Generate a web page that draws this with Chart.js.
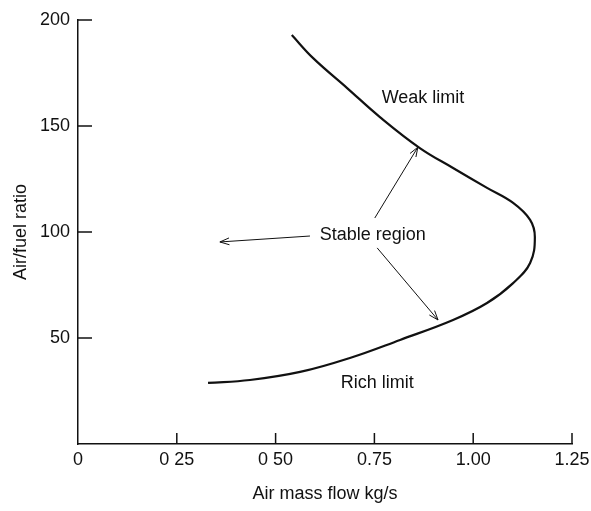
<!DOCTYPE html>
<html lang="en">
<head>
<meta charset="UTF-8">
<title>Air/fuel ratio stability loop</title>
<script src="https://cdn.jsdelivr.net/npm/chart.js"></script>
<style>
    html, body { margin: 0; padding: 0; background: #fff; }
    #wrap { width: 591px; height: 511px; }
</style>
</head>
<body>
<div id="wrap"><canvas id="loopChart"></canvas></div>
<script>
    // stability loop (weak limit on top, rich limit below)
    const massFlow = [0.541, 0.595, 0.681, 0.764, 0.865, 0.949, 1.035, 1.101, 1.144, 1.156, 1.144, 1.101, 1.035, 0.949, 0.815, 0.688, 0.562, 0.435, 0.329];
    const afRatio  = [192.9, 182.0, 167.9, 154.2, 139.6, 130.2, 120.8, 113.7, 105.7, 97.6, 85.4, 75.9, 66.5, 58.5, 49.1, 40.6, 34.0, 30.2, 28.8];

    const xTickLabels = ['0', '0 25', '0 50', '0.75', '1.00', '1.25'];
    const yTickLabels = ['', '50', '100', '150', '200'];

    const notes = [
        { text: 'Weak limit', x: 0.873, y: 163 },
        { text: 'Stable region', x: 0.746, y: 98.6 },
        { text: 'Rich limit', x: 0.757, y: 28.8 }
    ];
    const arrows = [
        { from: [0.587, 98.1], to: [0.359, 95.3] },
        { from: [0.751, 106.6], to: [0.860, 140] },
        { from: [0.757, 92.5], to: [0.911, 58.5] }
    ];

    const ink = '#111';
    const font = '"Liberation Sans", Arial, sans-serif';

    const points = massFlow.map((x, i) => ({ x: x, y: afRatio[i] }));

    const decorPlugin = {
        id: 'decor',
        afterDatasetsDraw(chart) {
            const ctx = chart.ctx;
            const xs = chart.scales.x;
            const ys = chart.scales.y;
            const area = chart.chartArea;
            ctx.save();
            ctx.strokeStyle = ink;
            ctx.fillStyle = ink;
            ctx.lineWidth = 1.5;

            // inward tick marks
            ys.ticks.forEach(t => {
                if (t.value === 0) return;
                const py = ys.getPixelForValue(t.value);
                ctx.beginPath();
                ctx.moveTo(area.left, py);
                ctx.lineTo(area.left + 14, py);
                ctx.stroke();
            });
            xs.ticks.forEach(t => {
                if (t.value === 0) return;
                const px = xs.getPixelForValue(t.value);
                ctx.beginPath();
                ctx.moveTo(px, area.bottom);
                ctx.lineTo(px, area.bottom - 11);
                ctx.stroke();
            });

            // arrows with open heads
            ctx.lineWidth = 1;
            arrows.forEach(a => {
                const x1 = xs.getPixelForValue(a.from[0]);
                const y1 = ys.getPixelForValue(a.from[1]);
                const x2 = xs.getPixelForValue(a.to[0]);
                const y2 = ys.getPixelForValue(a.to[1]);
                const ang = Math.atan2(y2 - y1, x2 - x1);
                ctx.beginPath();
                ctx.moveTo(x1, y1);
                ctx.lineTo(x2, y2);
                ctx.moveTo(x2 - 10 * Math.cos(ang - 0.35), y2 - 10 * Math.sin(ang - 0.35));
                ctx.lineTo(x2, y2);
                ctx.lineTo(x2 - 10 * Math.cos(ang + 0.35), y2 - 10 * Math.sin(ang + 0.35));
                ctx.stroke();
            });

            // curve labels
            ctx.font = '18px ' + font;
            ctx.textAlign = 'center';
            ctx.textBaseline = 'middle';
            notes.forEach(n => {
                ctx.fillText(n.text, xs.getPixelForValue(n.x), ys.getPixelForValue(n.y));
            });
            ctx.restore();
        }
    };

    new Chart(document.getElementById('loopChart'), {
        type: 'scatter',
        data: {
            datasets: [{
                data: points,
                showLine: true,
                tension: 0.4,
                borderColor: ink,
                borderWidth: 2.2,
                pointRadius: 0,
                fill: false
            }]
        },
        options: {
            responsive: true,
            maintainAspectRatio: false,
            animation: false,
            layout: { padding: { top: 20, right: 19, left: 0, bottom: 0 } },
            plugins: {
                legend: { display: false },
                tooltip: { enabled: false }
            },
            scales: {
                x: {
                    type: 'linear',
                    min: 0,
                    max: 1.25,
                    afterFit: s => { s.height = 67; s.paddingRight = 0; s.paddingLeft = 0; },
                    grid: { display: false, drawTicks: false },
                    border: { display: true, color: ink, width: 1.5 },
                    ticks: {
                        stepSize: 0.25,
                        autoSkip: false,
                        maxRotation: 0,
                        padding: 5,
                        color: ink,
                        font: { family: font, size: 18 },
                        callback: (v, i) => xTickLabels[i]
                    },
                    title: {
                        display: true,
                        text: 'Air mass flow kg/s',
                        color: ink,
                        font: { family: font, size: 18 },
                        padding: { top: 6, bottom: 6 }
                    }
                },
                y: {
                    min: 0,
                    max: 200,
                    afterFit: s => { s.width = 78; s.paddingTop = 0; },
                    grid: { display: false, drawTicks: false },
                    border: { display: true, color: ink, width: 1.5 },
                    ticks: {
                        stepSize: 50,
                        autoSkip: false,
                        padding: 8,
                        color: ink,
                        font: { family: font, size: 18 },
                        callback: (v, i) => yTickLabels[i]
                    },
                    title: {
                        display: true,
                        text: 'Air/fuel ratio',
                        color: ink,
                        font: { family: font, size: 18 },
                        padding: { top: 10, bottom: 4 }
                    }
                }
            }
        },
        plugins: [decorPlugin]
    });
</script>
</body>
</html>
